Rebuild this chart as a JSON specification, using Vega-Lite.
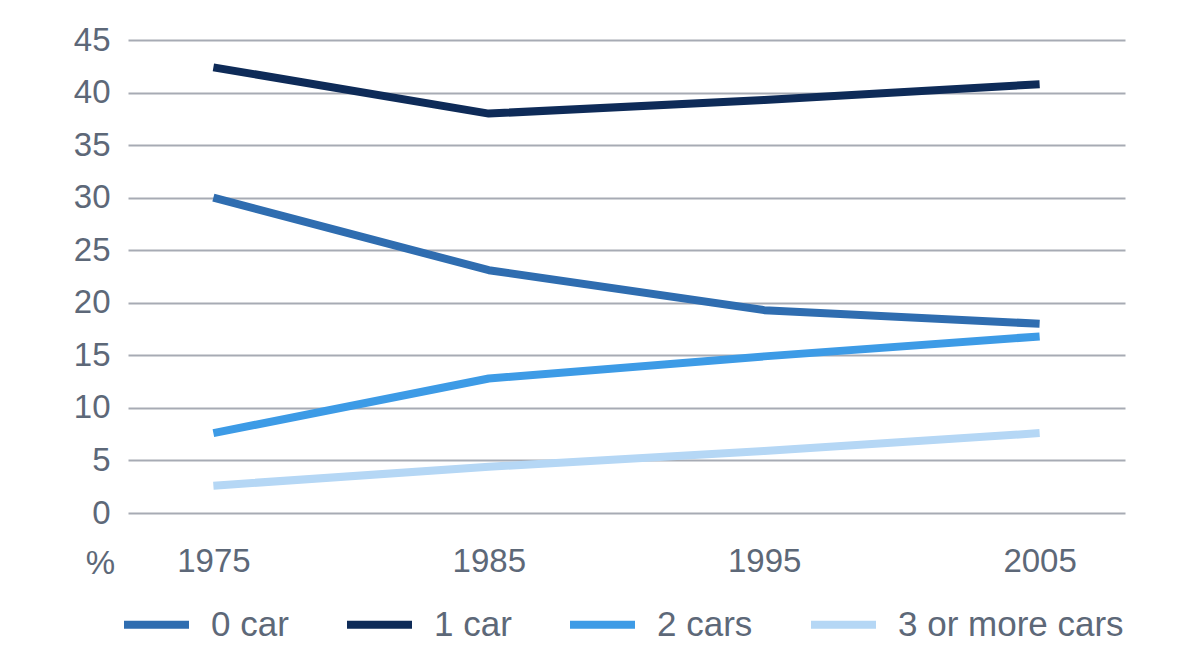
{
  "$schema": "https://vega.github.io/schema/vega-lite/v6.json",
  "autosize": {"type": "none"},
  "width": 997,
  "height": 473,
  "padding": {"left": 128, "top": 40, "right": 75, "bottom": 157},
  "background": "#ffffff",
  "data": {
    "values": [
      {"year": "1975", "series": "0 car", "value": 30.0},
      {"year": "1985", "series": "0 car", "value": 23.1},
      {"year": "1995", "series": "0 car", "value": 19.3},
      {"year": "2005", "series": "0 car", "value": 18.0},
      {"year": "1975", "series": "1 car", "value": 42.4},
      {"year": "1985", "series": "1 car", "value": 38.0},
      {"year": "1995", "series": "1 car", "value": 39.3},
      {"year": "2005", "series": "1 car", "value": 40.8},
      {"year": "1975", "series": "2 cars", "value": 7.6},
      {"year": "1985", "series": "2 cars", "value": 12.8},
      {"year": "1995", "series": "2 cars", "value": 14.9},
      {"year": "2005", "series": "2 cars", "value": 16.8},
      {"year": "1975", "series": "3 or more cars", "value": 2.6},
      {"year": "1985", "series": "3 or more cars", "value": 4.4},
      {"year": "1995", "series": "3 or more cars", "value": 5.9},
      {"year": "2005", "series": "3 or more cars", "value": 7.6}
    ]
  },
  "config": {
    "view": {"stroke": null},
    "font": "Liberation Sans",
    "axis": {
      "labelFont": "Liberation Sans",
      "labelFontSize": 33,
      "labelColor": "#5d6878",
      "domain": false,
      "ticks": false
    },
    "legend": {
      "labelFont": "Liberation Sans",
      "labelFontSize": 35,
      "labelColor": "#5d6878",
      "labelLimit": 0
    }
  },
  "mark": {"type": "line", "strokeWidth": 8, "strokeCap": "butt", "strokeJoin": "round"},
  "encoding": {
    "x": {
      "field": "year",
      "type": "ordinal",
      "scale": {"type": "point", "padding": 0.31},
      "axis": {"labelAngle": 0, "labelPadding": 32, "grid": false, "title": null}
    },
    "y": {
      "field": "value",
      "type": "quantitative",
      "scale": {"domain": [0, 45], "nice": false},
      "axis": {
        "values": [0, 5, 10, 15, 20, 25, 30, 35, 40, 45],
        "grid": true,
        "gridColor": "#a7abb4",
        "gridWidth": 2,
        "gridOpacity": 1,
        "labelPadding": 18,
        "title": "%",
        "titleFont": "Liberation Sans",
        "titleFontSize": 33,
        "titleFontWeight": "normal",
        "titleColor": "#5d6878",
        "titleAngle": 0,
        "titleX": -28,
        "titleY": 523,
        "titleAlign": "center",
        "titleBaseline": "middle"
      }
    },
    "color": {
      "field": "series",
      "type": "nominal",
      "scale": {
        "domain": ["0 car", "1 car", "2 cars", "3 or more cars"],
        "range": ["#2f6db0", "#0e2b58", "#3d9be6", "#b5d7f5"]
      },
      "legend": {
        "title": null,
        "orient": "none",
        "legendX": -8,
        "legendY": 548,
        "direction": "horizontal",
        "columns": 4,
        "columnPadding": 42,
        "symbolType": "stroke",
        "symbolStrokeWidth": 8,
        "symbolSize": 4225,
        "labelOffset": 18
      }
    }
  }
}
